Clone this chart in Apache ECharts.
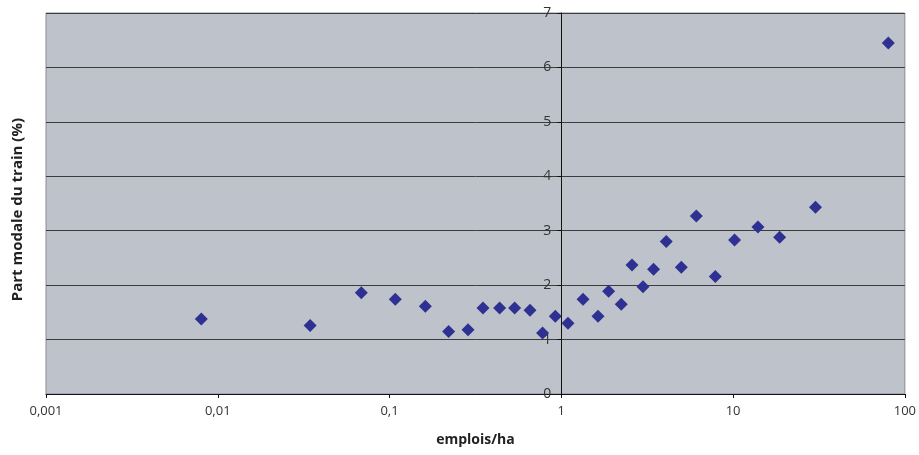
<!DOCTYPE html>
<html>
<head>
<meta charset="utf-8">
<script src="https://cdn.jsdelivr.net/npm/echarts@6/dist/echarts.min.js"></script>
<style>
html,body{margin:0;padding:0;background:#fff;}
#c{width:919px;height:455px;}
</style>
</head>
<body>
<div id="c"></div>
<script>
// emplois/ha (x) and part modale du train in % (y)
var emploisHa = [0.00802, 0.0345, 0.0685, 0.108, 0.1616, 0.2208, 0.2864, 0.350, 0.4375, 0.535,
  0.657, 0.778, 0.923, 1.094, 1.338, 1.635, 1.885, 2.234, 2.579, 2.989,
  3.445, 4.084, 4.995, 6.108, 7.878, 10.2, 13.96, 18.66, 30.2, 80.1];
var partModale = [1.38, 1.26, 1.86, 1.74, 1.61, 1.15, 1.18, 1.58, 1.58, 1.58,
  1.54, 1.12, 1.43, 1.30, 1.74, 1.43, 1.89, 1.65, 2.37, 1.97,
  2.29, 2.80, 2.33, 3.27, 2.16, 2.83, 3.07, 2.88, 3.43, 6.45];
var xTickLabels = ['0,001', '0,01', '0,1', '1', '10', '100'];
var yTicks = [0, 1, 2, 3, 4, 5, 6, 7];
var xTitle = 'emplois/ha';
var yTitle = 'Part modale du train (%)';

var points = emploisHa.map(function (x, i) { return [x, partModale[i]]; });
var FONT = '"Open Sans", "Noto Sans", sans-serif';
var gridLeft = 46;

var chart = echarts.init(document.getElementById('c'), null, {renderer: 'canvas'});
var option = {
  animation: false,
  backgroundColor: '#ffffff',
  grid: {
    left: gridLeft, right: 14, top: 13, bottom: 61,
    show: true, backgroundColor: '#bec2ca', borderColor: '#8a8c90', borderWidth: 1
  },
  xAxis: {
    type: 'log', logBase: 10, min: 0.001, max: 100,
    name: xTitle, nameLocation: 'middle', nameGap: 39,
    nameTextStyle: {fontFamily: FONT, fontWeight: 'bold', fontSize: 14, color: '#222'},
    axisLine: {show: true, lineStyle: {color: '#111', width: 1}},
    axisTick: {show: true, length: 4, lineStyle: {color: '#111'}},
    minorTick: {show: false},
    splitLine: {show: false},
    axisLabel: {
      margin: 11, fontFamily: FONT, fontSize: 13, color: '#333',
      formatter: function (v) {
        var k = Math.round(Math.log(v) / Math.LN10) + 3;
        return xTickLabels[k] !== undefined ? xTickLabels[k] : '';
      }
    }
  },
  yAxis: {
    type: 'value', min: yTicks[0], max: yTicks[yTicks.length - 1], interval: 1,
    position: 'left', offset: -514,
    axisLine: {show: true, onZero: false, lineStyle: {color: '#111', width: 1}},
    axisTick: {show: true, length: 4, lineStyle: {color: '#111'}},
    splitLine: {show: true, lineStyle: {color: '#3c3c3c', width: 1}},
    axisLabel: {margin: 10, fontFamily: FONT, fontSize: 14, color: '#333', padding: [4, 0, 0, 0]}
  },
  graphic: [{
    type: 'text', left: 10, top: 118,
    rotation: Math.PI / 2,
    style: {text: yTitle, font: 'bold 15px ' + FONT, fill: '#222'}
  }],
  series: [{
    type: 'scatter',
    data: points,
    symbol: 'diamond',
    symbolSize: 13,
    itemStyle: {color: '#2e3192', opacity: 1}
  }]
};
chart.setOption(option);
var px = chart.convertToPixel({xAxisIndex: 0}, 1);
chart.setOption({yAxis: {offset: -(px - gridLeft)}});
</script>
</body>
</html>
